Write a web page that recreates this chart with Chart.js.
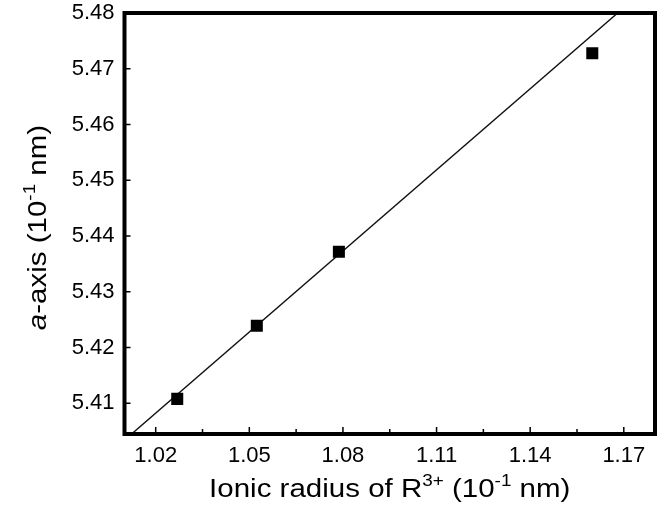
<!DOCTYPE html>
<html>
<head>
<meta charset="utf-8">
<script src="https://cdn.jsdelivr.net/npm/chart.js@4"></script>
<style>
  body { margin: 0; background: #fff; }
  #wrap { width: 667px; height: 510px; }
</style>
</head>
<body>
<div id="wrap"><canvas id="chart"></canvas></div>
<script>
// ionic radius (10^-1 nm) and a-axis (10^-1 nm)
const radius = [1.0269, 1.0524, 1.0787, 1.1599]
const aAxis = [5.4108, 5.4239, 5.4372, 5.4728]

// linear fit end points
const fitX = [1.0100, 1.1800]
const fitY = [5.4034, 5.4858]

const xTicks = [1.02, 1.05, 1.08, 1.11, 1.14, 1.17]
const xMinor = [1.035, 1.065, 1.095, 1.125, 1.155]
const yTicks = [5.41, 5.42, 5.43, 5.44, 5.45, 5.46, 5.47, 5.48]

const FONT = "'Liberation Sans', Arial, sans-serif"

function toPoints(xs, ys){
    let pts = []
    for(let i = 0; i < xs.length; i++)
        pts.push({x: xs[i], y: ys[i]})
    return pts
}

// frame, inward ticks and the axis titles with superscripts
const framePlugin = {
    id: 'frame',
    afterDraw(chart){
        const ctx = chart.ctx
        const a = chart.chartArea
        const xs = chart.scales.x
        const ys = chart.scales.y
        ctx.save()
        ctx.strokeStyle = '#000'
        ctx.lineWidth = 1.5
        ctx.beginPath()
        xTicks.forEach(v => {
            let px = xs.getPixelForValue(v)
            ctx.moveTo(px, a.bottom); ctx.lineTo(px, a.bottom - 7)
        })
        xMinor.forEach(v => {
            let px = xs.getPixelForValue(v)
            ctx.moveTo(px, a.bottom); ctx.lineTo(px, a.bottom - 5)
        })
        yTicks.forEach(v => {
            let py = ys.getPixelForValue(v)
            ctx.moveTo(a.left, py); ctx.lineTo(a.left + 6, py)
        })
        ctx.stroke()

        ctx.lineWidth = 4
        ctx.strokeRect(a.left, a.top, a.right - a.left, a.bottom - a.top)

        // x title
        ctx.fillStyle = '#000'
        ctx.textBaseline = 'alphabetic'
        drawRich(ctx, [
            {t: 'Ionic radius of R', f: '25px ' + FONT, dy: 0},
            {t: '3+', f: '16px ' + FONT, dy: -11},
            {t: ' (10', f: '25px ' + FONT, dy: 0},
            {t: '-1', f: '16px ' + FONT, dy: -11},
            {t: ' nm)', f: '25px ' + FONT, dy: 0}
        ], (a.left + a.right) / 2, 497, 1.18)

        // y title
        ctx.translate(46, (a.top + a.bottom) / 2 + 4)
        ctx.rotate(-Math.PI / 2)
        drawRich(ctx, [
            {t: 'a', f: 'italic 25px ' + FONT, dy: 0},
            {t: '-axis (10', f: '25px ' + FONT, dy: 0},
            {t: '-1', f: '16px ' + FONT, dy: -11},
            {t: ' nm)', f: '25px ' + FONT, dy: 0}
        ], 0, 0, 1.18)
        ctx.restore()
    }
}

// draws text pieces side by side, centred on cx, stretched by sx
function drawRich(ctx, parts, cx, y, sx){
    let total = 0
    parts.forEach(p => { ctx.font = p.f; p.w = ctx.measureText(p.t).width; total += p.w })
    ctx.save()
    ctx.translate(cx, y)
    ctx.scale(sx, 1)
    let x = -total / 2
    ctx.textAlign = 'left'
    parts.forEach(p => {
        ctx.font = p.f
        ctx.fillText(p.t, x, p.dy)
        x += p.w
    })
    ctx.restore()
}

const data = {
    datasets: [{
        label: 'a-axis',
        data: toPoints(radius, aAxis),
        pointStyle: 'rect',
        pointRadius: 8.5,
        pointBorderWidth: 0,
        backgroundColor: '#000',
        borderColor: '#000',
        showLine: false
    }, {
        label: 'fit',
        data: toPoints(fitX, fitY),
        showLine: true,
        borderColor: '#111',
        borderWidth: 1.4,
        pointRadius: 0
    }]
}

const config = {
    type: 'scatter',
    data: data,
    plugins: [framePlugin],
    options: {
        responsive: true,
        maintainAspectRatio: false,
        animation: false,
        layout: { padding: { left: 0, right: 12, top: 13, bottom: 0 } },
        plugins: { legend: { display: false }, tooltip: { enabled: false } },
        scales: {
            x: {
                type: 'linear',
                min: 1.01,
                max: 1.18,
                afterBuildTicks: s => { s.ticks = xTicks.map(v => ({value: v})) },
                afterFit: s => { s.height = 76; s.paddingLeft = 0; s.paddingRight = 0 },
                grid: { display: false, drawTicks: false },
                border: { display: false },
                ticks: {
                    padding: 9,
                    color: '#000',
                    font: { family: FONT, size: 22 },
                    maxRotation: 0,
                    callback: v => v.toFixed(2)
                }
            },
            y: {
                type: 'linear',
                min: 5.4045,
                max: 5.48,
                afterBuildTicks: s => { s.ticks = yTicks.map(v => ({value: v})) },
                afterFit: s => { s.width = 124.5; s.paddingTop = 0; s.paddingBottom = 0 },
                grid: { display: false, drawTicks: false },
                border: { display: false },
                ticks: {
                    padding: 10,
                    color: '#000',
                    font: { family: FONT, size: 22 },
                    callback: v => v.toFixed(2)
                }
            }
        }
    }
}

let ctx = document.getElementById('chart').getContext('2d')
new Chart(ctx, config)
</script>
</body>
</html>
